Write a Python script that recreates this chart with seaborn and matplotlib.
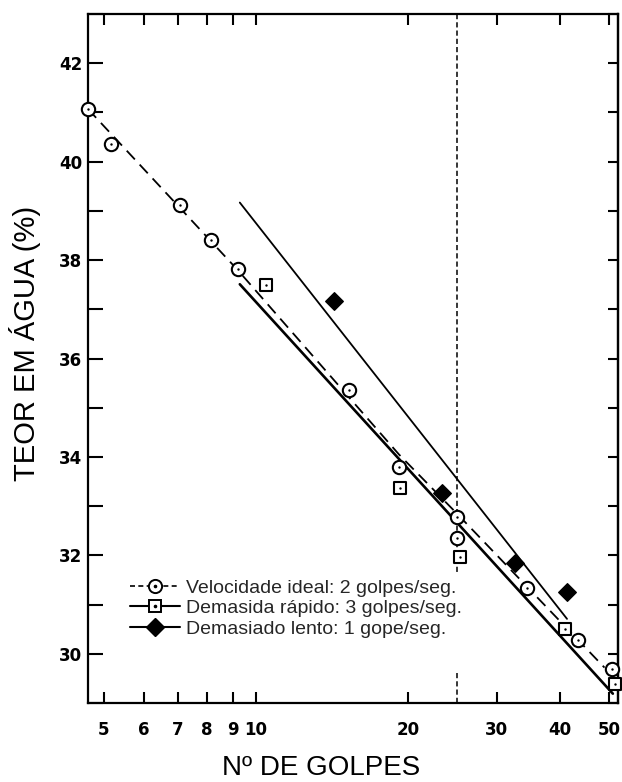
import numpy as np
import pandas as pd
import matplotlib
matplotlib.use("Agg")
import matplotlib.pyplot as plt
from matplotlib.lines import Line2D
from matplotlib.legend_handler import HandlerTuple
from matplotlib.ticker import NullLocator, FixedLocator
from matplotlib.font_manager import FontProperties
import seaborn as sns

# Ensaio de Casagrande: teor em água em função do número de golpes
ideal_golpes = [4.65, 5.16, 7.07, 8.15, 9.21, 15.3, 19.2, 25.0, 25.0, 34.4, 43.4, 50.7]
ideal_teor = [41.07, 40.35, 39.13, 38.40, 37.81, 35.37, 33.80, 32.77, 32.35, 31.33, 30.28, 29.70]

rapido_golpes = [10.47, 19.3, 25.4, 40.9, 51.5]
rapido_teor = [37.49, 33.37, 31.96, 30.51, 29.39]

lento_golpes = [14.27, 23.4, 32.6, 41.3]
lento_teor = [37.17, 33.27, 31.84, 31.25]

# retas traçadas para cada velocidade de ensaio
ideal_reta_golpes = [4.65, 9.2, 19.2, 25.0, 49.0]
ideal_reta_teor = [41.07, 37.80, 34.05, 32.85, 29.72]
rapido_reta_golpes = [9.29, 50.9]
rapido_reta_teor = [37.51, 29.19]
lento_reta_golpes = [9.29, 41.3]
lento_reta_teor = [39.17, 30.71]

# linha de referência dos 25 golpes
ref_golpes = 25.0
ref_teor_sup = [43.0, 31.65]
ref_teor_inf = [29.6, 29.0]

x_ticks = [5, 6, 7, 8, 9, 10, 20, 30, 40, 50]
x_tick_labels = ["5", "6", "7", "8", "9", "10", "20", "30", "40", "50"]
y_ticks = [30, 32, 34, 36, 38, 40, 42]
y_minor = [29, 31, 33, 35, 37, 39, 41, 43]
y_right = list(range(29, 44))

labels = [
    "Velocidade ideal: 2 golpes/seg.",
    "Demasida rápido: 3 golpes/seg.",
    "Demasiado lento: 1 gope/seg.",
]

sns.set_theme(style="white")
plt.rcParams["font.family"] = ["Liberation Sans", "DejaVu Sans"]

fig = plt.figure(figsize=(6.22, 7.82), dpi=100)
ax = fig.add_axes([0.1415, 0.101, 0.852, 0.881])
ax.set_xscale("log")

# retas
sns.lineplot(x=ideal_reta_golpes, y=ideal_reta_teor, ax=ax, color="black", lw=1.3,
             linestyle=(0, (6.6, 3.9)), estimator=None, sort=False, zorder=2)
sns.lineplot(x=rapido_reta_golpes, y=rapido_reta_teor, ax=ax, color="black", lw=1.9,
             estimator=None, sort=False, zorder=2)
sns.lineplot(x=lento_reta_golpes, y=lento_reta_teor, ax=ax, color="black", lw=1.3,
             estimator=None, sort=False, zorder=2)
for seg in (ref_teor_sup, ref_teor_inf):
    sns.lineplot(x=[ref_golpes] * len(seg), y=seg, ax=ax, color="black", lw=1.1,
                 linestyle=(0, (3.4, 2.0)), estimator=None, sort=False, zorder=2)

# pontos
sns.scatterplot(x=ideal_golpes, y=ideal_teor, ax=ax, marker="o", s=92, color="white",
                edgecolor="black", linewidth=1.5, clip_on=False, zorder=4)
sns.scatterplot(x=rapido_golpes, y=rapido_teor, ax=ax, marker="s", s=70, color="white",
                edgecolor="black", linewidth=1.5, clip_on=False, zorder=4)
sns.scatterplot(x=lento_golpes, y=lento_teor, ax=ax, marker="D", s=80, color="black",
                edgecolor="black", linewidth=1.0, clip_on=False, zorder=4)
sns.scatterplot(x=ideal_golpes + rapido_golpes, y=ideal_teor + rapido_teor, ax=ax,
                marker="o", s=3, color="black", linewidth=0, clip_on=False, zorder=5)

ax.set_xlim(4.65, 52.1)
ax.set_ylim(29, 43)

ax.xaxis.set_major_locator(FixedLocator(x_ticks))
ax.xaxis.set_minor_locator(NullLocator())
ax.set_xticklabels(x_tick_labels)
ax.set_yticks(y_ticks)
ax.yaxis.set_minor_locator(FixedLocator(y_minor))

tick_font = FontProperties(family="DejaVu Sans", weight="bold", size=12)
for lab in ax.get_xticklabels() + ax.get_yticklabels():
    lab.set_fontproperties(tick_font)

ax.tick_params(axis="x", which="both", direction="in", length=8, width=1.5,
               top=True, bottom=True, pad=13, colors="black")
ax.tick_params(axis="y", which="both", direction="in", length=11, width=1.5,
               left=True, right=False, pad=4, colors="black")

sec = ax.secondary_yaxis("right")
sec.set_yticks(y_right)
sec.set_yticklabels([])
sec.tick_params(axis="y", direction="in", length=7, width=1.5, colors="black")
sec.spines["right"].set_linewidth(1.6)
sec.spines["right"].set_color("black")

for sp in ax.spines.values():
    sp.set_visible(True)
    sp.set_linewidth(1.6)
    sp.set_color("black")

ax.set_xlabel("Nº DE GOLPES", fontsize=20, color="black")
ax.set_ylabel("TEOR EM ÁGUA (%)", fontsize=21, color="black")
ax.xaxis.label.set_va("baseline")
ax.xaxis.set_label_coords(0.439, -0.1045)
ax.yaxis.set_label_coords(-0.0887, 0.5225)

# legenda
h_ideal = (Line2D([], [], color="black", lw=1.2, linestyle=(0, (3, 2)), marker="o",
                  markersize=9.5, markerfacecolor="white", markeredgecolor="black",
                  markeredgewidth=1.4),
           Line2D([], [], color="black", lw=0, marker="o", markersize=1.6))
h_rapido = (Line2D([], [], color="black", lw=1.5, marker="s", markersize=8.5,
                   markerfacecolor="white", markeredgecolor="black", markeredgewidth=1.4),
            Line2D([], [], color="black", lw=0, marker="o", markersize=1.6))
h_lento = Line2D([], [], color="black", lw=1.5, marker="D", markersize=9,
                 markerfacecolor="black", markeredgecolor="black")

ax.legend(handles=[h_ideal, h_rapido, h_lento], labels=labels,
          handler_map={tuple: HandlerTuple(ndivide=1)},
          loc="upper left", bbox_to_anchor=(0.079, 0.18), frameon=False,
          prop=dict(family="Liberation Sans", size=14), handlelength=2.6,
          handletextpad=0.3, labelspacing=0.15, borderaxespad=0, borderpad=0)

fig.savefig("out.png", dpi=100, facecolor="white")
